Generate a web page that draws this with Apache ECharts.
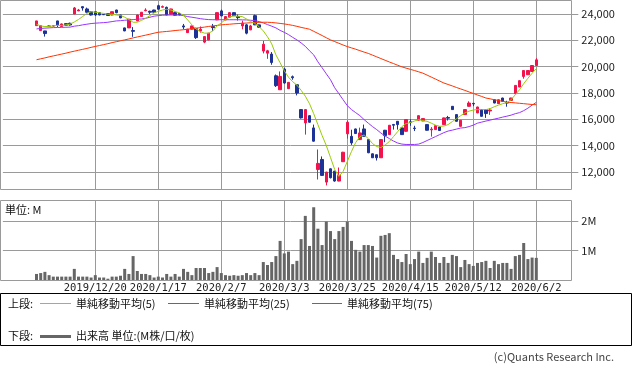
<!DOCTYPE html>
<html><head><meta charset="utf-8">
<script src="https://cdn.jsdelivr.net/npm/echarts@6/dist/echarts.min.js"></script>
<style>html,body{margin:0;padding:0;background:#fff}#c{width:633px;height:372px}</style>
</head><body><div id="c"></div>
<script>
const dates = [
'2019/12/2','2019/12/3','2019/12/4','2019/12/5','2019/12/6','2019/12/9','2019/12/10','2019/12/11','2019/12/12','2019/12/13','2019/12/16','2019/12/17','2019/12/18','2019/12/19','2019/12/20','2019/12/23','2019/12/24','2019/12/25','2019/12/26','2019/12/27','2019/12/30',
'2020/1/6','2020/1/7','2020/1/8','2020/1/9','2020/1/10','2020/1/14','2020/1/15','2020/1/16','2020/1/17','2020/1/20','2020/1/21','2020/1/22','2020/1/23','2020/1/24','2020/1/27','2020/1/28','2020/1/29','2020/1/30','2020/1/31',
'2020/2/3','2020/2/4','2020/2/5','2020/2/6','2020/2/7','2020/2/10','2020/2/12','2020/2/13','2020/2/14','2020/2/17','2020/2/18','2020/2/19','2020/2/20','2020/2/21','2020/2/25','2020/2/26','2020/2/27','2020/2/28',
'2020/3/2','2020/3/3','2020/3/4','2020/3/5','2020/3/6','2020/3/9','2020/3/10','2020/3/11','2020/3/12','2020/3/13','2020/3/16','2020/3/17','2020/3/18','2020/3/19','2020/3/23','2020/3/24','2020/3/25','2020/3/26','2020/3/27','2020/3/30','2020/3/31',
'2020/4/1','2020/4/2','2020/4/3','2020/4/6','2020/4/7','2020/4/8','2020/4/9','2020/4/10','2020/4/13','2020/4/14','2020/4/15','2020/4/16','2020/4/17','2020/4/20','2020/4/21','2020/4/22','2020/4/23','2020/4/24','2020/4/27','2020/4/28','2020/4/30',
'2020/5/1','2020/5/7','2020/5/8','2020/5/11','2020/5/12','2020/5/13','2020/5/14','2020/5/15','2020/5/18','2020/5/19','2020/5/20','2020/5/21','2020/5/22','2020/5/25','2020/5/26','2020/5/27','2020/5/28','2020/5/29',
'2020/6/1','2020/6/2'];

const open = [23110,22735,22710,23060,23080,23470,23040,23265,23290,24000,24230,24555,24380,24170,24170,24100,23960,24030,23920,24300,23920,22940,22940,22740,23470,23800,24250,24200,24300,24630,24510,24500,23980,24100,24030,23090,22580,22840,22880,22710,21860,22030,23040,23550,24230,23550,23750,24100,23800,23090,23170,22790,23870,23170,21180,21020,20950,19300,18240,19810,18320,19230,18620,16730,15720,16270,15340,12180,12940,11220,12230,12050,11300,12770,14890,14700,15260,14450,15260,14450,13370,13300,13070,15160,14830,15600,15840,15340,15080,15800,15330,15920,15870,15590,15190,15210,15410,15590,16130,16980,16350,15460,16350,16980,17200,16480,16730,16730,16630,17480,17180,17610,17260,17430,17940,18450,19250,19380,19630,20080];
const close = [23470,23110,22510,23090,23100,23170,23240,23145,23160,24455,24300,24455,24130,23920,23920,23920,23940,23880,24170,24100,23700,22710,23600,22680,23920,24130,24300,24130,24130,24360,24560,23920,24380,23900,23920,23010,22840,23090,22200,22840,22280,22540,22960,24100,23850,23800,24100,23870,23720,23300,22540,23090,23170,22990,21700,21200,20310,18550,19250,18750,18800,19150,17990,16100,16730,15770,14330,12640,11730,11980,11550,11300,11730,13490,15770,14200,14910,14960,14700,13450,13070,13070,14450,14760,15540,15540,15590,14830,15970,15760,15290,16270,16050,15160,15250,15510,15140,16100,16080,16730,15840,15920,16730,17230,17160,16930,16220,16430,16700,17230,17480,17360,17230,17610,18570,18930,19700,19700,20080,20510];
const low = [23100,22700,22280,23020,23040,22990,23000,23120,23120,23990,24220,24250,24100,23880,23850,23900,23920,23860,23900,24050,23680,22690,22930,22260,23450,23780,24200,24000,24100,24340,24480,23900,23960,23850,23900,22830,22560,22820,22100,22580,21780,22000,22710,23530,23830,23530,23730,23850,23500,22830,22450,22770,23150,22960,21000,20590,20140,18450,18240,18700,18300,19000,17810,16050,14830,15740,14300,11420,11700,10970,11500,11250,11280,12750,14530,14050,14880,14430,14680,13420,13050,12860,13050,14250,14810,15210,15210,14810,15060,15500,15100,15900,15850,15140,14680,15190,15120,15570,15900,16710,15820,15440,16330,16960,16990,16460,16200,16100,16330,17210,17160,17340,16950,17410,17920,18430,19080,19360,19610,20060];
const high = [23480,23120,22720,23140,23150,23480,23270,23290,23340,24530,24380,24570,24480,24200,24200,24120,23980,24060,24180,24320,23940,22960,23620,23000,23940,24150,24430,24250,24320,24700,24640,24560,24400,24170,24080,23240,22860,23100,22950,23050,22290,22560,23240,24120,24330,23830,24120,24120,23950,23490,23250,23170,23950,23190,21950,21270,21100,19400,19630,19900,18830,19320,18650,16760,16750,16300,15590,13700,13170,12000,12260,12080,12330,13520,15900,15200,15290,15360,15590,14480,13400,13320,14470,15190,15560,15640,15860,15360,15990,16000,15500,16290,16070,15610,15400,15530,15430,16120,16250,17000,16370,15940,16750,17360,17250,16950,16750,16750,16840,17500,17500,17630,17400,17630,18590,18950,19720,19720,20100,20640];

const ma5 = [23220,23090,23040,23050,23090,23130,23130,23170,23220,23390,23580,23810,24040,24170,24130,24080,24040,23980,23980,23920,23890,23750,23580,23370,23370,23510,23670,23870,24080,24200,24300,24360,24300,24190,24080,23890,23545,23170,22860,22660,22540,22540,22710,23090,23320,23580,23770,23850,23830,23800,23620,23420,23280,23040,22710,22260,21730,20890,20290,19680,19190,18850,18590,18200,17750,17180,16420,15590,14760,14000,13090,12180,11650,12030,12790,13550,14230,14680,14800,14530,14150,13920,13850,14040,14300,14680,15060,15440,15670,15740,15860,15970,15890,15840,15700,15550,15460,15480,15590,15820,16040,16270,16480,16610,16700,16730,16730,16730,16800,16950,17070,17180,17260,17480,17860,18240,18700,19110,19490,19850];
const ma25 = [22860,22900,22920,22940,22960,22970,22980,22990,23000,23070,23110,23170,23220,23270,23300,23320,23340,23370,23420,23470,23490,23520,23545,23570,23600,23620,23670,23750,23830,23870,23900,23920,23920,23920,23920,23870,23800,23750,23700,23640,23600,23570,23560,23560,23560,23560,23560,23560,23560,23550,23545,23520,23490,23420,23320,23190,23070,22940,22750,22600,22430,22220,22030,21800,21540,21200,20890,20360,19910,19450,19000,18390,17940,17480,17030,16730,16500,16270,15970,15700,15440,15210,14950,14720,14530,14340,14190,14110,14080,14080,14080,14110,14230,14380,14530,14680,14830,14980,15100,15170,15250,15330,15360,15440,15550,15700,15780,15860,15930,16010,16080,16160,16230,16310,16420,16500,16650,16840,17070,17280];
const ma75 = [20520,20590,20660,20740,20810,20880,20950,21020,21100,21170,21240,21310,21380,21460,21530,21600,21670,21740,21820,21890,21960,22030,22100,22180,22250,22320,22390,22460,22540,22610,22640,22670,22700,22740,22770,22800,22840,22880,22920,22960,23000,23050,23090,23130,23170,23200,23220,23250,23270,23290,23310,23330,23350,23360,23370,23370,23350,23320,23280,23240,23190,23130,23060,22980,22910,22840,22680,22520,22360,22190,22030,21900,21770,21640,21520,21420,21320,21210,21100,21000,20870,20740,20610,20480,20350,20230,20100,19980,19880,19790,19700,19600,19500,19350,19200,19050,18900,18750,18640,18530,18410,18300,18190,18070,17960,17840,17730,17610,17550,17480,17420,17360,17300,17270,17240,17210,17180,17150,17120,17100];
const volume = [0.22,0.25,0.29,0.18,0.13,0.13,0.13,0.13,0.13,0.39,0.13,0.13,0.13,0.10,0.18,0.10,0.10,0.06,0.13,0.13,0.16,0.39,0.22,0.82,0.32,0.22,0.22,0.18,0.10,0.13,0.10,0.22,0.13,0.22,0.13,0.39,0.29,0.18,0.42,0.42,0.42,0.25,0.29,0.45,0.25,0.18,0.16,0.18,0.16,0.18,0.25,0.18,0.25,0.18,0.62,0.52,0.62,0.82,1.33,0.91,0.97,0.55,0.66,1.39,2.17,1.16,2.46,1.74,1.19,1.98,1.66,1.39,1.66,1.80,1.98,1.33,1.03,0.97,1.19,1.19,1.16,0.77,1.50,1.53,1.59,0.86,0.72,0.62,0.89,0.55,0.72,0.97,0.59,0.76,0.97,0.79,0.59,0.79,0.59,0.86,0.82,0.45,0.69,0.55,0.49,0.59,0.62,0.66,0.42,0.66,0.55,0.59,0.59,0.39,0.82,0.86,1.26,0.72,0.77,0.76];
const tickLabels = ['2019/12/20','2020/1/17','2020/2/7','2020/3/3','2020/3/25','2020/4/15','2020/5/12','2020/6/2'];
const PAD_L = 8, PAD_R = 10;

const cats = [];
for (let k = 0; k < PAD_L; k++) cats.push('L' + k);
dates.forEach(d => cats.push(d));
for (let k = 0; k < PAD_R; k++) cats.push('R' + k);
const padWith = (arr, blank) => Array(PAD_L).fill(blank).concat(arr, Array(PAD_R).fill(blank));
const candles = padWith(dates.map((d, i) => [open[i], close[i], low[i], high[i]]), ['-','-','-','-']);
const isTick = (idx, val) => tickLabels.indexOf(val) >= 0;

const GRID = '#9a9a9a';
const UP = '#f2124c', DOWN = '#1d3296';
const C5 = '#99cc00', C25 = '#9933ff', C75 = '#ff3300';
const JP = '"Noto Sans CJK JP", sans-serif';

const chart = echarts.init(document.getElementById('c'), null, {renderer: 'canvas'});
const xBase = {
  type: 'category', data: cats, boundaryGap: false,
  axisLine: {show: false}, axisTick: {show: false},
  splitLine: {show: true, interval: isTick, lineStyle: {color: GRID, width: 1}}
};
const T = (x, y, text, extra) => Object.assign({type: 'text', silent: true, style: {x: x, y: y, text: text, font: '11px ' + JP, fill: '#111', textVerticalAlign: 'middle', verticalAlign: 'middle'}}, extra || {});
const L = (x1, x2, y, color, w) => ({type: 'line', silent: true, shape: {x1: x1, y1: y, x2: x2, y2: y}, style: {stroke: color, lineWidth: w}});

chart.setOption({
  animation: false,
  grid: [
    {left: 2.9, top: 0, width: 575.4, height: 190, outerBoundsMode: 'none'},
    {left: 2.9, top: 201, width: 575.4, height: 79.5, outerBoundsMode: 'none'}
  ],
  xAxis: [
    Object.assign({gridIndex: 0, axisLabel: {show: false}}, xBase),
    Object.assign({gridIndex: 1, axisLabel: {show: true, interval: isTick, margin: 2, fontFamily: 'DejaVu Sans Mono', fontSize: 10.5, color: '#222'}}, xBase)
  ],
  yAxis: [
    {gridIndex: 0, type: 'value', position: 'right', min: 10620, max: 25060, minInterval: 2000, maxInterval: 2000,
     axisLine: {show: false}, axisTick: {show: false},
     splitLine: {show: true, showMinLine: false, showMaxLine: false, lineStyle: {color: GRID, width: 1}},
     axisLabel: {showMinLabel: false, showMaxLabel: false, margin: 3, fontFamily: JP, fontSize: 11, color: '#222',
       formatter: v => Number(v).toLocaleString('en-US')}},
    {gridIndex: 1, type: 'value', position: 'right', min: 0, max: 2.67, minInterval: 1, maxInterval: 1,
     axisLine: {show: false}, axisTick: {show: false},
     splitLine: {show: true, showMinLine: false, showMaxLine: false, lineStyle: {color: GRID, width: 1}},
     axisLabel: {showMinLabel: false, showMaxLabel: false, margin: 3, fontFamily: JP, fontSize: 11, color: '#222',
       formatter: v => v + 'M'}}
  ],
  series: [
    {type: 'candlestick', xAxisIndex: 0, yAxisIndex: 0, data: candles, barWidth: 3,
     itemStyle: {color: UP, color0: DOWN, borderColor: UP, borderColor0: DOWN, borderWidth: 1}},
    {type: 'line', xAxisIndex: 0, yAxisIndex: 0, data: padWith(ma25, '-'), symbol: 'none', lineStyle: {color: C25, width: 1}, itemStyle: {color: C25}},
    {type: 'line', xAxisIndex: 0, yAxisIndex: 0, data: padWith(ma75, '-'), symbol: 'none', lineStyle: {color: C75, width: 1}, itemStyle: {color: C75}},
    {type: 'line', xAxisIndex: 0, yAxisIndex: 0, data: padWith(ma5, '-'), symbol: 'none', lineStyle: {color: C5, width: 1}, itemStyle: {color: C5}},
    {type: 'bar', xAxisIndex: 1, yAxisIndex: 1, data: padWith(volume, '-'), barWidth: 3, itemStyle: {color: '#666666'}}
  ],
  graphic: [
    {type: 'rect', silent: true, z: 50, shape: {x: 0.5, y: 0.5, width: 571, height: 189}, style: {fill: 'none', stroke: GRID, lineWidth: 1}},
    {type: 'rect', silent: true, z: 50, shape: {x: 0.5, y: 200.5, width: 571, height: 80}, style: {fill: 'none', stroke: GRID, lineWidth: 1}},
    T(5, 210, '単位: M'),
    {type: 'rect', silent: true, shape: {x: 0.5, y: 293.5, width: 631, height: 52}, style: {fill: 'none', stroke: '#000', lineWidth: 1}},
    T(8, 304, '上段:'),
    L(40, 71, 303.5, C5, 1),
    T(76, 304, '単純移動平均(5)'),
    L(168, 199, 303.5, C25, 1),
    T(204, 304, '単純移動平均(25)'),
    L(312, 342, 303.5, C75, 1),
    T(347, 304, '単純移動平均(75)'),
    T(8, 336, '下段:'),
    L(40, 71, 336.5, '#666666', 3),
    T(76, 336, '出来高 単位:(M株/口/枚)'),
    {type: 'text', silent: true, style: {x: 614, y: 357, text: '(c)Quants Research Inc.', font: '11px ' + JP, fill: '#444', textAlign: 'right', align: 'right', textVerticalAlign: 'middle', verticalAlign: 'middle'}}
  ]
});
</script></body></html>
